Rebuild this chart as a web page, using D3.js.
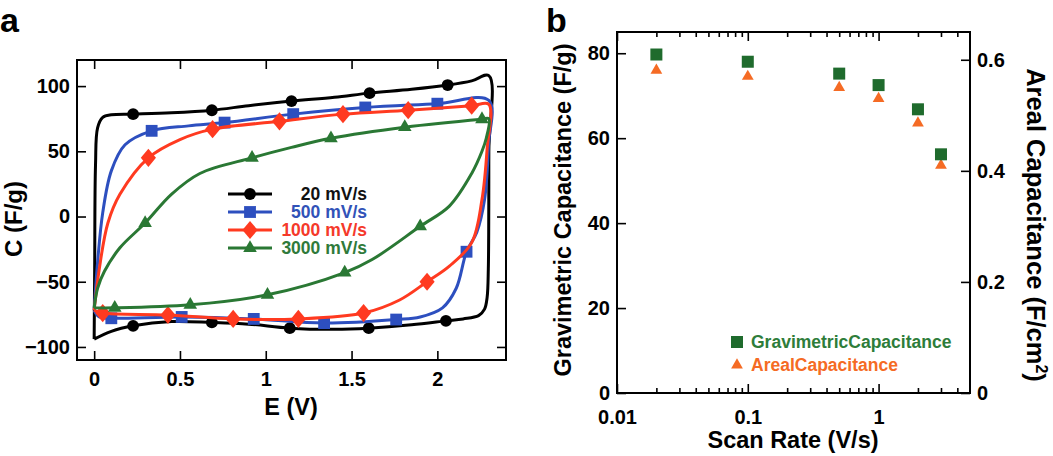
<!DOCTYPE html>
<html>
<head>
<meta charset="utf-8">
<script src="https://cdn.jsdelivr.net/npm/d3@7"></script>
<style>
  body { margin: 0; background: #fff; }
  text { font-family: "Liberation Sans", Arial, Helvetica, sans-serif; font-weight: bold; }
</style>
</head>
<body>
<svg id="chart" width="1053" height="456"></svg>
<script>
/* global d3 */

// ---- panel a : CV loops, [E (V), C (F/g)] ----
const loop20 = [[0, -94], [0.003, -40], [0.008, 40], [0.02, 68], [0.05, 76], [0.1, 78], [0.227, 78.5],
  [0.45, 79.5], [0.686, 81.5], [0.9, 85], [1.15, 88.5], [1.4, 91.5], [1.605, 94.6], [1.85, 97.5],
  [2.06, 100.8], [2.2, 104], [2.3, 108], [2.3, 50], [2.297, -40], [2.29, -62], [2.275, -71],
  [2.24, -76], [2.15, -78.5], [2.05, -80], [1.85, -83], [1.6, -85.6], [1.4, -86.5], [1.14, -85.6],
  [0.9, -82.5], [0.686, -81.2], [0.45, -80.5], [0.227, -83.8], [0.1, -88], [0, -94]];
const loop500 = [[0, -72], [0.02, -35], [0.05, 3], [0.1, 35], [0.18, 55], [0.335, 65.7], [0.55, 69.5],
  [0.76, 72], [1.16, 78.5], [1.58, 83.6], [2.0, 86.5], [2.3, 89], [2.298, 55], [2.275, 13],
  [2.23, -12], [2.17, -27], [2.11, -55], [2.03, -70], [1.9, -77], [1.76, -79], [1.34, -81.7],
  [0.93, -78.5], [0.51, -77], [0.1, -78], [0.03, -77], [0, -72]];
const loop1000 = [[0, -72], [0.03, -40], [0.08, -5], [0.15, 17], [0.316, 45], [0.5, 59], [0.69, 67],
  [1.08, 73], [1.45, 78.5], [1.83, 81.5], [2.2, 85], [2.3, 86], [2.29, 52], [2.26, 13],
  [2.2, -20], [2.07, -38], [1.94, -50], [1.78, -64], [1.57, -74], [1.19, -78.5], [0.81, -78.5],
  [0.43, -75.5], [0.05, -74], [0, -72]];
const loop3000 = [[0, -70], [0.02, -55], [0.06, -42], [0.15, -24], [0.297, -5], [0.45, 17],
  [0.616, 33], [0.92, 45], [1.15, 53], [1.38, 60], [1.81, 68.5], [2.26, 74.6], [2.3, 75],
  [2.285, 60], [2.26, 50], [2.2, 33], [2.07, 8], [1.9, -7.5], [1.62, -33], [1.46, -43],
  [1.01, -60], [0.56, -67.7], [0.12, -70], [0, -70]];

const marks20 = [[0.227, 78.5], [0.686, 81.5], [1.15, 88.5], [1.605, 94.6], [2.06, 100.8],
  [2.05, -80], [1.6, -85.6], [1.14, -85.6], [0.686, -81.2], [0.227, -83.8]];
const marks500 = [[0.335, 65.7], [0.76, 72], [1.16, 78.5], [1.58, 83.6], [2.0, 86.5],
  [2.17, -27], [1.76, -79], [1.34, -81.7], [0.93, -78.5], [0.51, -77], [0.1, -78]];
const marks1000 = [[0.316, 45], [0.69, 67], [1.08, 73], [1.45, 78.5], [1.83, 81.5], [2.2, 85],
  [1.94, -50], [1.57, -74], [1.19, -78.5], [0.81, -78.5], [0.43, -75.5], [0.05, -74]];
const marks3000 = [[0.297, -5], [0.92, 45], [1.38, 60], [1.81, 68.5], [2.26, 74.6],
  [1.9, -7.5], [1.46, -43], [1.01, -60], [0.56, -67.7], [0.12, -70]];

const scanLabels = ['20 mV/s', '500 mV/s', '1000 mV/s', '3000 mV/s'];
const eTicks = [0, 0.5, 1, 1.5, 2];
const cTicks = [-100, -50, 0, 50, 100];

// ---- panel b : capacitance vs scan rate ----
const scanRates = [0.02, 0.1, 0.5, 1, 2, 3];
const gravimetric = [79.7, 78.0, 75.2, 72.5, 66.8, 56.2];
const areal = [0.581, 0.570, 0.550, 0.530, 0.486, 0.410];
const gravTicks = [0, 20, 40, 60, 80];
const arealTicks = [0, 0.2, 0.4, 0.6];
const rateLabels = [0.01, 0.1, 1];
const rateMinor = [0.02, 0.03, 0.04, 0.05, 0.06, 0.07, 0.08, 0.09,
  0.2, 0.3, 0.4, 0.5, 0.6, 0.7, 0.8, 0.9, 2, 3, 4];

const svg = d3.select('#chart');
const FONT = '"Liberation Sans", Arial, Helvetica, sans-serif';

function styleAxis(g, size) {
  g.select('.domain').remove();
  g.selectAll('line').attr('stroke', '#000').attr('stroke-width', 1.6);
  g.selectAll('text').attr('font-size', size).attr('fill', '#000')
    .attr('font-family', FONT).attr('font-weight', 'bold');
}

// custom markers
const diamond = {
  draw(ctx, size) {
    const w = Math.sqrt(size) * 0.62;
    const h = w * 1.2;
    ctx.moveTo(0, -h); ctx.lineTo(w, 0); ctx.lineTo(0, h); ctx.lineTo(-w, 0); ctx.closePath();
  },
};
const series = [
  { loop: loop20, marks: marks20, color: '#000000', text: '#111111', sym: d3.symbolCircle, size: 110 },
  { loop: loop500, marks: marks500, color: '#2d4fbf', text: '#3152b8', sym: d3.symbolSquare, size: 140 },
  { loop: loop1000, marks: marks1000, color: '#ff3a20', text: '#f5392a', sym: diamond, size: 150 },
  { loop: loop3000, marks: marks3000, color: '#2a7834', text: '#2f7a3a', sym: d3.symbolTriangle, size: 80 },
];

// ================= panel a =================
const xA = d3.scaleLinear().domain([-0.1, 2.4]).range([77, 506]);
const yA = d3.scaleLinear().domain([-110, 120]).range([360, 60]);

svg.append('text').attr('x', 0).attr('y', 32).attr('font-size', 34).text('a');

const line = d3.line().x(d => xA(d[0])).y(d => yA(d[1]))
  .curve(d3.curveCatmullRom.alpha(0.5));

series.forEach((s) => {
  svg.append('path').attr('d', line(s.loop)).attr('fill', 'none')
    .attr('stroke', s.color).attr('stroke-width', 3).attr('stroke-linejoin', 'round');
  svg.append('g').selectAll('path').data(s.marks).enter().append('path')
    .attr('d', d3.symbol(s.sym, s.size))
    .attr('transform', d => `translate(${xA(d[0])},${yA(d[1])})`)
    .attr('fill', s.color);
});

// axes (ticks inward, mirrored)
svg.append('g').attr('transform', 'translate(0,360)')
  .call(d3.axisBottom(xA).tickValues(eTicks).tickSize(-9).tickPadding(12).tickFormat(d3.format('')))
  .call(g => styleAxis(g, 20));
svg.append('g').attr('transform', 'translate(0,60)')
  .call(d3.axisTop(xA).tickValues(eTicks).tickSize(-9).tickFormat(''))
  .call(g => styleAxis(g, 20));
svg.append('g').attr('transform', 'translate(77,0)')
  .call(d3.axisLeft(yA).tickValues(cTicks).tickSize(-9).tickPadding(7))
  .call(g => styleAxis(g, 20));
svg.append('g').attr('transform', 'translate(506,0)')
  .call(d3.axisRight(yA).tickValues(cTicks).tickSize(-9).tickFormat(''))
  .call(g => styleAxis(g, 20));
svg.append('rect').attr('x', 77).attr('y', 60).attr('width', 429).attr('height', 300)
  .attr('fill', 'none').attr('stroke', '#000').attr('stroke-width', 2);

svg.append('text').attr('x', 291).attr('y', 415).attr('text-anchor', 'middle')
  .attr('font-size', 23.5).text('E (V)');
svg.append('text').attr('transform', 'translate(22,219) rotate(-90)').attr('text-anchor', 'middle')
  .attr('font-size', 24).text('C (F/g)');

// legend a
const legA = svg.append('g').selectAll('g').data(series).enter().append('g')
  .attr('transform', (d, i) => `translate(0,${194 + (i * 18)})`);
legA.append('line').attr('x1', 228).attr('x2', 272).attr('stroke', d => d.color).attr('stroke-width', 3);
legA.append('path').attr('d', d => d3.symbol(d.sym, d.size)()).attr('transform', 'translate(250,0)')
  .attr('fill', d => d.color);
legA.append('text').attr('x', 367).attr('y', 6).attr('text-anchor', 'end').attr('font-size', 17.5)
  .attr('fill', d => d.text).text((d, i) => scanLabels[i]);

// ================= panel b =================
const xB = d3.scaleLog().domain([0.01, 5]).range([617, 970]);
const yB = d3.scaleLinear().domain([0, 85]).range([393, 32]);
const yB2 = d3.scaleLinear().domain([0, 0.65]).range([393, 32]);

svg.append('text').attr('x', 546).attr('y', 32).attr('font-size', 34).text('b');

svg.append('g').attr('transform', 'translate(0,393)')
  .call(d3.axisBottom(xB).tickValues(rateLabels).tickSize(-9).tickPadding(17).tickFormat(d3.format('')))
  .call(g => styleAxis(g, 20));
svg.append('g').attr('transform', 'translate(0,393)')
  .call(d3.axisBottom(xB).tickValues(rateMinor).tickSize(-5).tickFormat(''))
  .call(g => styleAxis(g, 20));
svg.append('g').attr('transform', 'translate(0,32)')
  .call(d3.axisTop(xB).tickValues(rateLabels).tickSize(-9).tickFormat(''))
  .call(g => styleAxis(g, 20));
svg.append('g').attr('transform', 'translate(0,32)')
  .call(d3.axisTop(xB).tickValues(rateMinor).tickSize(-5).tickFormat(''))
  .call(g => styleAxis(g, 20));
svg.append('g').attr('transform', 'translate(617,0)')
  .call(d3.axisLeft(yB).tickValues(gravTicks).tickSize(-9).tickPadding(7))
  .call(g => styleAxis(g, 20));
svg.append('g').attr('transform', 'translate(970,0)')
  .call(d3.axisRight(yB2).tickValues(arealTicks).tickSize(-9).tickPadding(7).tickFormat(d3.format('')))
  .call(g => styleAxis(g, 20));
svg.append('rect').attr('x', 617).attr('y', 32).attr('width', 353).attr('height', 361)
  .attr('fill', 'none').attr('stroke', '#000').attr('stroke-width', 2);

const GREEN = '#1f6b2d';
const ORANGE = '#f56b24';
svg.append('g').selectAll('path').data(scanRates).enter().append('path')
  .attr('d', d3.symbol(d3.symbolTriangle, 60))
  .attr('transform', (d, i) => `translate(${xB(d)},${yB2(areal[i])})`)
  .attr('fill', ORANGE);
svg.append('g').selectAll('rect').data(scanRates).enter().append('rect')
  .attr('x', d => xB(d) - 6).attr('y', (d, i) => yB(gravimetric[i]) - 6)
  .attr('width', 12).attr('height', 12).attr('fill', GREEN);

svg.append('text').attr('x', 793).attr('y', 448).attr('text-anchor', 'middle')
  .attr('font-size', 23.5).text('Scan Rate (V/s)');
svg.append('text').attr('transform', 'translate(571,210) rotate(-90)').attr('text-anchor', 'middle')
  .attr('font-size', 23.5).text('Gravimetric Capacitance (F/g)');
const ar = svg.append('text').attr('transform', 'translate(1027,225) rotate(90)')
  .attr('text-anchor', 'middle').attr('font-size', 25.5);
ar.append('tspan').text('Areal Capacitance (F/cm');
ar.append('tspan').attr('dy', -9).attr('font-size', 16).text('2');
ar.append('tspan').attr('dy', 9).text(')');

// legend b
svg.append('rect').attr('x', 731).attr('y', 336).attr('width', 12).attr('height', 12).attr('fill', GREEN);
svg.append('text').attr('x', 751).attr('y', 348).attr('font-size', 17.5).attr('fill', '#2e7d3a')
  .text('GravimetricCapacitance');
svg.append('path').attr('d', d3.symbol(d3.symbolTriangle, 60)()).attr('transform', 'translate(737,365)')
  .attr('fill', ORANGE);
svg.append('text').attr('x', 751).attr('y', 371).attr('font-size', 17.5).attr('fill', ORANGE)
  .text('ArealCapacitance');
</script>
</body>
</html>
